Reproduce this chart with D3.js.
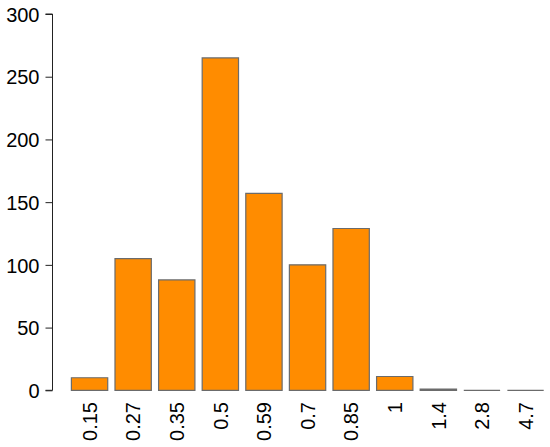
<!DOCTYPE html>
<html>
<head>
<meta charset="utf-8">
<script src="https://cdn.jsdelivr.net/npm/d3@7"></script>
<style>
  body { margin: 0; background: #fff; }
  svg { display: block; }
  text { font-family: "Liberation Sans", Arial, Helvetica, sans-serif; }
</style>
</head>
<body>
<svg id="chart" width="550" height="447"></svg>
<script>
const categories = ["0.15", "0.27", "0.35", "0.5", "0.59", "0.7", "0.85", "1", "1.4", "2.8", "4.7"];
const counts = [10, 105, 88, 265, 157, 100, 129, 11, 1, 0, 0];
const yTicks = [0, 50, 100, 150, 200, 250, 300];

const svg = d3.select("#chart");

// R barplot geometry: bar i spans [0.2 + 1.2*i, 1.2 + 1.2*i]
const x = d3.scaleLinear().domain([-0.32, 13.72]).range([52.5, 562.6]);
const y = d3.scaleLinear().domain([0, 300]).range([390.3, 14]);

svg.append("g")
  .selectAll("path")
  .data(counts)
  .join("path")
  .attr("d", (d, i) => {
    const x0 = x(0.2 + 1.2 * i), x1 = x(1.2 + 1.2 * i);
    const y0 = y(0), y1 = y(d);
    return `M${x0},${y0}H${x1}V${y1}H${x0}Z`;
  })
  .attr("fill", "#FF8C00")
  .attr("stroke", "#6b6b6b")
  .attr("stroke-width", 1.2);

const yAxis = d3.axisLeft(y).tickValues(yTicks).tickSize(7).tickPadding(6).tickFormat(d3.format("d"));
const gy = svg.append("g").attr("transform", "translate(52.5,0)").call(yAxis);
gy.select(".domain").attr("stroke", "#222").attr("d", `M-7,${y(0)}H0V${y(300)}H-7`);
gy.selectAll(".tick line").attr("stroke", "#222");
gy.selectAll(".tick text").attr("font-size", "20px").attr("fill", "#000").attr("dy", "0.36em");

// rotated category labels
svg.append("g")
  .selectAll("text")
  .data(categories)
  .join("text")
  .attr("transform", (d, i) => `translate(${x(0.7 + 1.2 * i)},402) rotate(-90)`)
  .attr("text-anchor", "end")
  .attr("dy", "0.36em")
  .attr("font-size", "20px")
  .attr("fill", "#000")
  .text(d => d);
</script>
</body>
</html>
